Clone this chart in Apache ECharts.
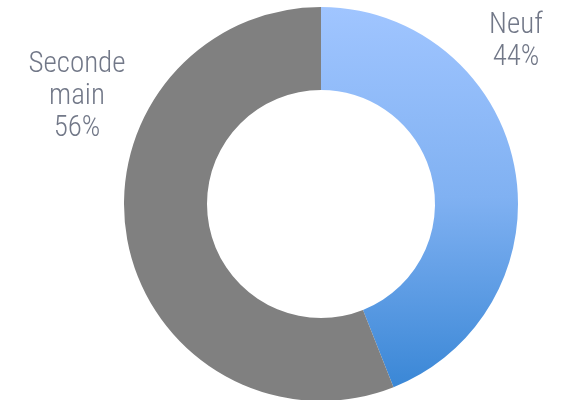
<!DOCTYPE html>
<html>
<head>
<meta charset="utf-8">
<style>
  html, body { margin: 0; padding: 0; background: #ffffff; }
  #chart { width: 567px; height: 400px; }
</style>
<script src="https://cdn.jsdelivr.net/npm/echarts@6/dist/echarts.min.js"></script>
</head>
<body>
<div id="chart"></div>
<script>
// Répartition des ventes : neuf vs seconde main
const categories = ['Neuf', 'Seconde\nmain'];
const shares = [44, 56];

const labelFont = '"Liberation Sans Narrow", "Roboto Condensed", "DejaVu Sans Condensed", sans-serif';
const labelColor = '#727888';

// Position of each label block (centre), in pixels
const labelSpots = [
  { x: 516, y: 42 },
  { x: 77, y: 97 }
];

const chart = echarts.init(document.getElementById('chart'), null, { renderer: 'canvas' });

chart.setOption({
  animation: false,
  backgroundColor: '#ffffff',
  series: [{
    type: 'pie',
    center: [321, 204],
    radius: [114, 197],
    startAngle: 90,
    clockwise: true,
    avoidLabelOverlap: false,
    silent: true,
    label: {
      show: true,
      position: 'outside',
      formatter: p => p.name + '\n' + p.value + '%',
      fontFamily: labelFont,
      fontSize: 29,
      fontWeight: 300,
      lineHeight: 32,
      color: labelColor,
      align: 'center',
      verticalAlign: 'middle'
    },
    labelLine: { show: false },
    labelLayout: params => {
      const s = labelSpots[params.dataIndex];
      return { x: s.x, y: s.y, align: 'center', verticalAlign: 'middle' };
    },
    itemStyle: { borderWidth: 0 },
    data: categories.map((name, i) => ({
      name: name,
      value: shares[i],
      itemStyle: i === 0 ? {
        color: new echarts.graphic.LinearGradient(0, 0, 0, 1, [
          { offset: 0, color: '#a0c5ff' },
          { offset: 0.5, color: '#80b1f2' },
          { offset: 1, color: '#3a87d6' }
        ])
      } : { color: '#808080' }
    }))
  }]
});
</script>
</body>
</html>
